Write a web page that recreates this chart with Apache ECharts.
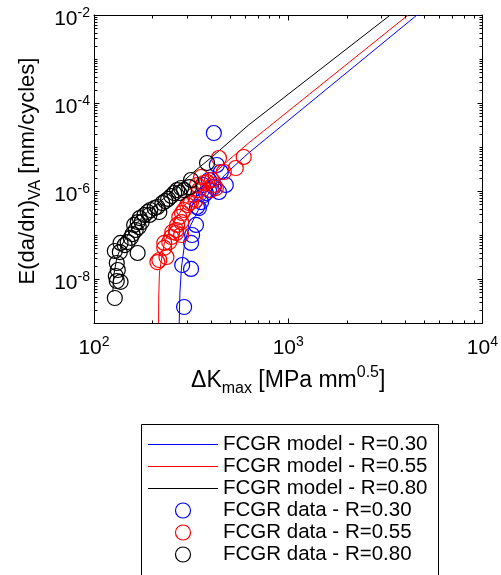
<!DOCTYPE html>
<html>
<head>
<meta charset="utf-8">
<script src="https://cdn.jsdelivr.net/npm/echarts@6/dist/echarts.min.js"></script>
<style>html,body{margin:0;padding:0;background:#fff}#c{width:501px;height:575px}</style>
</head>
<body>
<div id="c"></div>
<script>
// ---- axis ranges / tick labels ----
const X_MIN = 100, X_MAX = 10000;
const Y_MIN = 1e-9, Y_MAX = 1e-2;
const xLabelExps = [2, 3, 4];
const yLabelExps = [-8, -6, -4, -2];

// ---- legend names ----
const legendNames = [
  'FCGR model - R=0.30', 'FCGR model - R=0.55', 'FCGR model - R=0.80',
  'FCGR data - R=0.30', 'FCGR data - R=0.55', 'FCGR data - R=0.80'
];

// ---- model curves ----
const modelK_030  = [274.6, 276.9, 282.2, 291.2, 302.7, 315.1, 334.2, 359.9, 414.3, 494.3, 625.2, 4604];
const modelDa_030 = [1e-9, 4.8e-9, 1.87e-8, 5.3e-8, 1.11e-7, 1.69e-7, 2.85e-7, 5.3e-7, 1.30e-6, 2.85e-6, 7.3e-6, 1e-2];
const modelK_055  = [215, 215.4, 217.2, 221.5, 230.3, 244.2, 265.1, 291.2, 327.5, 390.7, 494.3, 625.2, 4142];
const modelDa_055 = [1e-9, 3.9e-9, 1.37e-8, 2.43e-8, 6.6e-8, 1.23e-7, 2.43e-7, 4.56e-7, 8.55e-7, 1.97e-6, 5.07e-6, 1.23e-5, 1e-2];
const modelK_080  = [125, 126.5, 131, 138.9, 152.7, 171.6, 193.1, 230.3, 274.6, 335.4, 404.7, 625.2, 3355];
const modelDa_080 = [5.07e-9, 1.23e-8, 3.0e-8, 5.93e-8, 1.17e-7, 2.19e-7, 3.7e-7, 6.93e-7, 1.37e-6, 3.0e-6, 5.93e-6, 3.16e-5, 1e-2];

const dataK_030  = [291, 284.5, 316, 316, 320, 335, 347, 356, 339, 368, 391, 377, 414, 429, 450, 477, 440, 414, 391, 364];
const dataDa_030 = [2.31e-9, 2.08e-8, 1.69e-8, 6.6e-8, 1.0e-7, 1.69e-7, 4.1e-7, 5.6e-7, 4.33e-7, 8.1e-7, 1.05e-6, 9.0e-7, 1.23e-6, 3.9e-6, 2.7e-6, 1.37e-6, 9.5e-7, 2.08e-5, 1.78e-6, 1.37e-6];
const dataK_055  = [212, 217, 236, 230, 244, 230, 250, 253, 265, 281, 268, 265, 281, 275, 284, 291, 302, 309, 316, 335, 327, 347, 339, 356, 368, 382, 405, 414, 400, 424, 440, 466, 537, 590];
const dataDa_055 = [2.43e-8, 2.7e-8, 3.16e-8, 5.1e-8, 6.9e-8, 6.6e-8, 9.0e-8, 1.17e-7, 1.11e-7, 1.0e-7, 1.69e-7, 1.3e-7, 1.97e-7, 2.57e-7, 3.16e-7, 3.7e-7, 4.8e-7, 5.3e-7, 5.6e-7, 6.2e-7, 8.1e-7, 1.05e-6, 1.37e-6, 2.08e-6, 1.52e-6, 1.6e-6, 1.78e-6, 1.37e-6, 1.05e-6, 1.17e-6, 5.62e-6, 2.7e-6, 3.33e-6, 5.93e-6];
const dataK_080  = [128, 131, 137, 129.5, 132.6, 131, 128, 135.8, 167.7, 143.9, 137, 149, 154.5, 158, 164, 170, 176, 168, 182, 189, 195, 205, 212, 217, 225, 233, 241, 250, 259, 268, 281, 275, 291, 309, 316, 382, 161, 193, 172];
const dataDa_080 = [3.7e-9, 9.0e-9, 8.6e-9, 1.17e-8, 1.6e-8, 2.31e-8, 4.33e-8, 4.1e-8, 3.9e-8, 5.9e-8, 6.6e-8, 6.9e-8, 8.6e-8, 1.05e-7, 1.3e-7, 1.52e-7, 1.97e-7, 1.97e-7, 2.85e-7, 3.33e-7, 3.7e-7, 4.1e-7, 4.33e-7, 3.33e-7, 5.3e-7, 5.9e-7, 6.6e-7, 7.7e-7, 9.0e-7, 1.05e-6, 1.17e-6, 9.0e-7, 1.05e-6, 1.23e-6, 1.78e-6, 4.33e-6, 1.69e-7, 2.85e-7, 2.43e-7];

const BLUE = '#0000ff', RED = '#ff0000', BLACK = '#000000';
const FONT = '"Liberation Sans", Arial, Helvetica, sans-serif';

function zip(a, b) { return a.map((v, i) => [v, b[i]]); }

// tick positions on log axes (decoration)
function logTicks(minExp, maxExp, majorExps) {
  const t = [];
  for (let e = minExp; e <= maxExp; e++) {
    const major = majorExps.indexOf(e) >= 0;
    t.push({ v: Math.pow(10, e), len: major ? 5 : 3 });
    if (e < maxExp) for (let k = 2; k <= 9; k++) t.push({ v: k * Math.pow(10, e), len: 3 });
  }
  return t;
}
const xTicks = logTicks(2, 4, xLabelExps);
const yTicks = logTicks(-9, -2, yLabelExps);

const supRich = {
  b: { fontSize: 21, lineHeight: 26, fontFamily: FONT, color: '#000' },
  s: { fontSize: 14, lineHeight: 14, verticalAlign: 'top', fontFamily: FONT, color: '#000' }
};

function lineSeries(name, k, da, color) {
  return {
    name, type: 'line', data: zip(k, da), showSymbol: false, symbol: 'none',
    lineStyle: { color, width: 1 }, itemStyle: { color }, silent: true, z: 2,
    emphasis: { disabled: true }, animation: false
  };
}
function scatterSeries(name, k, da, color) {
  return {
    name, type: 'scatter', data: zip(k, da), symbol: 'circle', symbolSize: 15,
    itemStyle: { color: 'rgba(0,0,0,0)', borderColor: color, borderWidth: 1.2, opacity: 1 },
    silent: true, z: 3, emphasis: { disabled: true }, animation: false
  };
}
const LINE_ICON = 'path://M0,0L70,0L70,1L0,1Z';

const chart = echarts.init(document.getElementById('c'), null, { renderer: 'canvas' });
const axisLine = { show: true, lineStyle: { color: '#000', width: 1 } };
const option = {
  animation: false,
  backgroundColor: '#fff',
  grid: { left: 94, top: 15, width: 392, height: 308, containLabel: false },
  graphic: [
    {
      type: 'rect', left: 141, top: 424, z: 0, silent: true,
      shape: { x: 0, y: 0, width: 297, height: 170 },
      style: { fill: '#fff', stroke: '#000', lineWidth: 1 }
    }
  ],
  xAxis: [
    {
      type: 'log', logBase: 10, min: X_MIN, max: X_MAX, position: 'bottom',
      axisLine, axisTick: { show: false }, splitLine: { show: false }, minorTick: { show: false },
      axisLabel: {
        margin: 12, showMinLabel: true, showMaxLabel: true, hideOverlap: false,
        formatter: v => { const e = Math.round(Math.log10(v)); return xLabelExps.indexOf(e) >= 0 ? '{b|10}{s|' + e + '}' : ''; },
        rich: supRich
      },
      name: '{d|\u0394K}{sub|max}{b| [MPa mm}{sup|0.5}{b|]}',
      nameLocation: 'middle', nameGap: 42,
      nameTextStyle: {
        rich: {
          d: { fontSize: 23, lineHeight: 32, fontFamily: FONT, color: '#000' },
          b: { fontSize: 23, lineHeight: 32, fontFamily: FONT, color: '#000' },
          sub: { fontSize: 16, lineHeight: 16, verticalAlign: 'bottom', fontFamily: FONT, color: '#000' },
          sup: { fontSize: 16, lineHeight: 16, verticalAlign: 'top', fontFamily: FONT, color: '#000' }
        }
      }
    },
    {
      type: 'log', logBase: 10, min: X_MIN, max: X_MAX, position: 'top',
      axisLine, axisTick: { show: false }, axisLabel: { show: false }, splitLine: { show: false }
    }
  ],
  yAxis: [
    {
      type: 'log', logBase: 10, min: Y_MIN, max: Y_MAX, position: 'left',
      axisLine, axisTick: { show: false }, splitLine: { show: false }, minorTick: { show: false },
      axisLabel: {
        margin: 4, showMinLabel: true, showMaxLabel: true, hideOverlap: false,
        padding: [8, 0, 0, 0],
        formatter: v => { const e = Math.round(Math.log10(v)); return yLabelExps.indexOf(e) >= 0 ? '{b|10}{s|' + e + '}' : ''; },
        rich: supRich
      },
      name: '{b|E(da/dn)}{sub|VA}{b| [mm/cycles]}',
      nameLocation: 'middle', nameGap: 48, nameRotate: 90,
      nameTextStyle: {
        padding: [0, 4, 0, 0],
        rich: {
          b: { fontSize: 22, lineHeight: 31, fontFamily: FONT, color: '#000' },
          sub: { fontSize: 16, lineHeight: 16, verticalAlign: 'bottom', fontFamily: FONT, color: '#000' }
        }
      }
    },
    {
      type: 'log', logBase: 10, min: Y_MIN, max: Y_MAX, position: 'right',
      axisLine, axisTick: { show: false }, axisLabel: { show: false }, splitLine: { show: false }
    }
  ],
  legend: {
    left: 141, top: 424, orient: 'vertical',
    padding: [10, 7, 0, 7], itemGap: 1, itemWidth: 70, itemHeight: 15,
    borderWidth: 0, z: 5,
    selectedMode: false,
    textStyle: { fontSize: 20.5, color: '#000', fontFamily: FONT },
    data: [
      { name: legendNames[0], icon: LINE_ICON, itemStyle: { color: BLUE, borderWidth: 0 } },
      { name: legendNames[1], icon: LINE_ICON, itemStyle: { color: RED, borderWidth: 0 } },
      { name: legendNames[2], icon: LINE_ICON, itemStyle: { color: BLACK, borderWidth: 0 } },
      { name: legendNames[3], icon: 'circle', itemStyle: { color: 'rgba(0,0,0,0)', borderColor: BLUE, borderWidth: 1.2 } },
      { name: legendNames[4], icon: 'circle', itemStyle: { color: 'rgba(0,0,0,0)', borderColor: RED, borderWidth: 1.2 } },
      { name: legendNames[5], icon: 'circle', itemStyle: { color: 'rgba(0,0,0,0)', borderColor: BLACK, borderWidth: 1.2 } }
    ]
  },
  series: [
    lineSeries(legendNames[0], modelK_030, modelDa_030, BLUE),
    lineSeries(legendNames[1], modelK_055, modelDa_055, RED),
    lineSeries(legendNames[2], modelK_080, modelDa_080, BLACK),
    scatterSeries(legendNames[3], dataK_030, dataDa_030, BLUE),
    scatterSeries(legendNames[4], dataK_055, dataDa_055, RED),
    scatterSeries(legendNames[5], dataK_080, dataDa_080, BLACK),
    {
      type: 'custom', coordinateSystem: 'cartesian2d', xAxisIndex: 0, yAxisIndex: 0,
      silent: true, clip: false, z: 10, animation: false,
      data: [[1000, 1e-5]],
      renderItem: function (params, api) {
        const bl = api.coord([X_MIN, Y_MIN]);
        const tr = api.coord([X_MAX, Y_MAX]);
        const left = Math.round(bl[0]) + 0.5, bottom = Math.round(bl[1]) + 0.5;
        const right = Math.round(tr[0]) + 0.5, top = Math.round(tr[1]) + 0.5;
        const ch = [];
        const st = { stroke: '#000', lineWidth: 1 };
        xTicks.forEach(t => {
          const px = Math.round(api.coord([t.v, Y_MIN])[0]) + 0.5;
          ch.push({ type: 'line', shape: { x1: px, y1: bottom, x2: px, y2: bottom - t.len }, style: st });
          ch.push({ type: 'line', shape: { x1: px, y1: top, x2: px, y2: top + t.len }, style: st });
        });
        yTicks.forEach(t => {
          const py = Math.round(api.coord([X_MIN, t.v])[1]) + 0.5;
          ch.push({ type: 'line', shape: { x1: left, y1: py, x2: left + t.len, y2: py }, style: st });
          ch.push({ type: 'line', shape: { x1: right, y1: py, x2: right - t.len, y2: py }, style: st });
        });
        return { type: 'group', children: ch };
      }
    }
  ]
};
chart.setOption(option);
</script>
</body>
</html>
